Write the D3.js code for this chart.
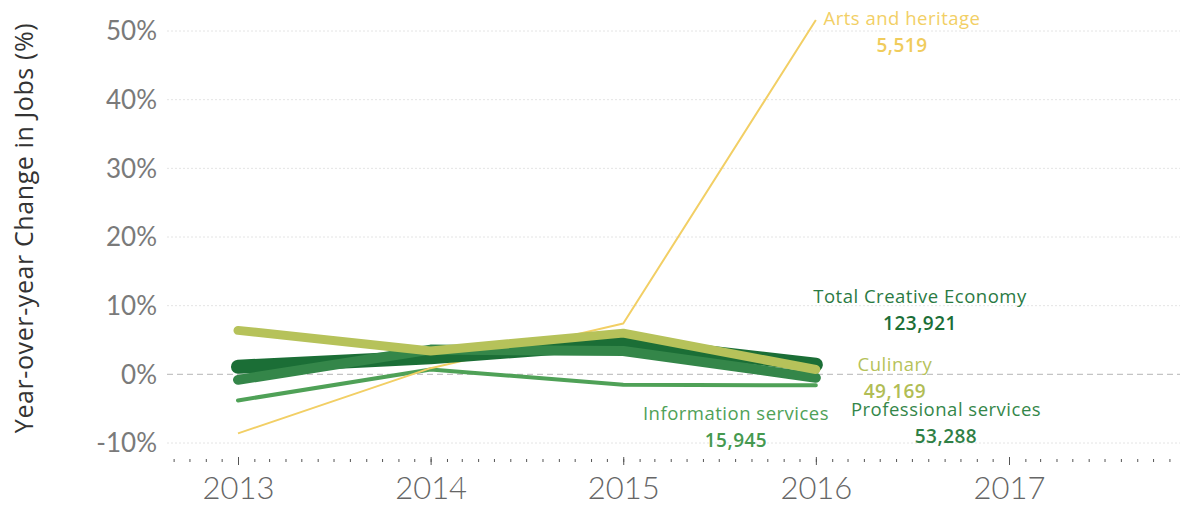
<!DOCTYPE html>
<html lang="en">
<head>
<meta charset="UTF-8">
<title>Year-over-year Change in Jobs</title>
<script src="https://d3js.org/d3.v7.min.js"></script>
<style>
  body { margin: 0; background: #fff; font-family: "Open Sans", Lato, sans-serif; }
  .grid line { stroke: #e4e4e4; stroke-dasharray: 2,2; }
  .ylab { fill: #7a7a7a; font-size: 26px; font-family: Lato, sans-serif; }
  .xlab { fill: #666; font-size: 31px; font-family: Lato, sans-serif; }
  .lbl { font-size: 18.5px; letter-spacing: 0.5px; }
  .num { font-size: 19px; font-weight: 600; letter-spacing: 0.5px; }
</style>
</head>
<body>
<div id="chart"></div>
<script>
const years = [2013, 2014, 2015, 2016];
const yTicks = [-10, 0, 10, 20, 30, 40, 50];

const totalCreative = [1.1, 2.5, 4.6, 1.4];
const professional = [-0.8, 3.6, 3.4, -0.5];
const culinary = [6.4, 3.4, 6.0, 0.7];
const information = [-3.8, 0.7, -1.5, -1.6];
const arts = [-8.6, 0.9, 7.4, 51.6];

const seriesNames = ["Information services", "Arts and heritage", "Total Creative Economy", "Professional services", "Culinary"];
const jobCounts = ["15,945", "5,519", "123,921", "53,288", "49,169"];

const svg = d3.select("#chart").append("svg")
  .attr("width", 1180)
  .attr("height", 505);

const x = d3.scaleTime()
  .domain([new Date(2013, 0, 1), new Date(2017, 0, 1)])
  .range([238, 1009]);
// stretch to the visible axis width
x.domain([x.invert(170), x.invert(1172)]).range([170, 1172]);

const y = d3.scaleLinear().domain([-10, 50]).range([443, 31]);

// gridlines
svg.append("g").attr("class", "grid")
  .selectAll("line").data(yTicks.filter(d => d !== 0)).enter().append("line")
  .attr("x1", 167).attr("x2", 1180)
  .attr("y1", d => y(d)).attr("y2", d => y(d));

svg.append("line")
  .attr("x1", 167).attr("x2", 1180)
  .attr("y1", y(0)).attr("y2", y(0))
  .attr("stroke", "#c4c4c4").attr("stroke-width", 1.3)
  .attr("stroke-dasharray", "6,4");

// y tick labels
svg.selectAll(".ylab").data(yTicks).enter().append("text")
  .attr("class", "ylab")
  .attr("x", 157).attr("y", d => y(d))
  .attr("dy", "0.36em")
  .attr("text-anchor", "end")
  .text(d => d + "%");

svg.append("text")
  .attr("transform", "translate(33,228) rotate(-90)")
  .attr("text-anchor", "middle")
  .attr("fill", "#333")
  .style("font-size", "25px")
  .style("letter-spacing", "0.6px")
  .text("Year-over-year Change in Jobs (%)");

// x axis: monthly minor ticks + yearly major ticks
const minorAxis = svg.append("g")
  .attr("transform", "translate(0,459)")
  .call(d3.axisBottom(x).ticks(d3.timeMonth.every(1)).tickSize(3).tickFormat(""));
minorAxis.select(".domain").remove();
minorAxis.selectAll("line").attr("stroke", "#555");

const majorAxis = svg.append("g")
  .attr("transform", "translate(0,457)")
  .call(d3.axisBottom(x).ticks(d3.timeYear.every(1)).tickSize(8).tickPadding(12).tickFormat(d3.timeFormat("%Y")));
majorAxis.select(".domain").remove();
majorAxis.selectAll("line").attr("stroke", "#555");
majorAxis.selectAll("text")
  .attr("class", "xlab")
  .attr("font-family", null).attr("font-size", null).attr("fill", null)
  .style("font-weight", 300);

// lines
const series = [
  { name: seriesNames[0], values: information, color: "#4fa157", width: 4 },
  { name: seriesNames[1], values: arts, color: "#f2cf65", width: 2 },
  { name: seriesNames[2], values: totalCreative, color: "#1b6e36", width: 14 },
  { name: seriesNames[3], values: professional, color: "#348649", width: 10 },
  { name: seriesNames[4], values: culinary, color: "#b6c25a", width: 9 }
];

const line = d3.line()
  .x((d, i) => x(new Date(years[i], 0, 1)))
  .y(d => y(d));

svg.selectAll(".series").data(series).enter().append("path")
  .attr("class", "series")
  .attr("d", d => line(d.values))
  .attr("fill", "none")
  .attr("stroke", d => d.color)
  .attr("stroke-width", d => d.width)
  .attr("stroke-linecap", d => d.width > 3 ? "round" : "butt")
  .attr("stroke-linejoin", "round");

// end labels
const labels = [
  { i: 1, x: 902, y: 19, color: "#f2cf65", numColor: "#f0cc5c" },
  { i: 2, x: 920, y: 297, color: "#2a7a43", numColor: "#1b6e36" },
  { i: 4, x: 895, y: 365, color: "#b6c25a", numColor: "#b1bd55" },
  { i: 0, x: 736, y: 414, color: "#4fa157", numColor: "#45994f" },
  { i: 3, x: 946, y: 410, color: "#348649", numColor: "#2f8046" }
];

labels.forEach(l => {
  svg.append("text").attr("class", "lbl")
    .attr("x", l.x).attr("y", l.y).attr("dy", "0.35em")
    .attr("text-anchor", "middle").attr("fill", l.color)
    .text(seriesNames[l.i]);
  svg.append("text").attr("class", "num")
    .attr("x", l.x).attr("y", l.y + 26).attr("dy", "0.35em")
    .attr("text-anchor", "middle").attr("fill", l.numColor)
    .text(jobCounts[l.i]);
});
</script>
</body>
</html>
